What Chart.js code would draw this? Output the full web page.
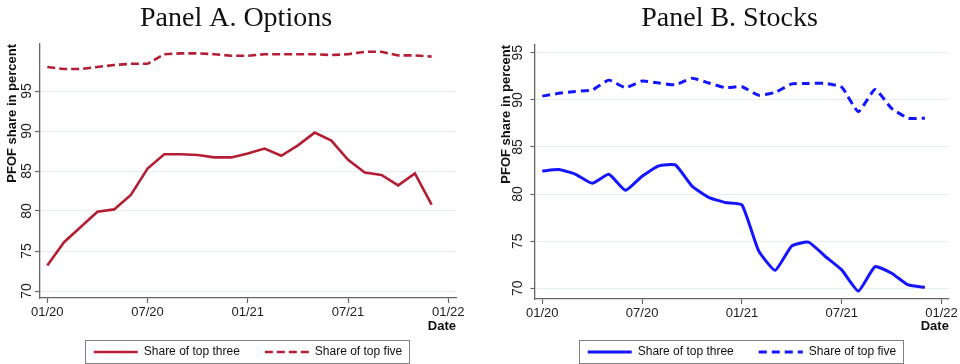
<!DOCTYPE html>
<html>
<head>
<meta charset="utf-8">
<script src="https://cdn.jsdelivr.net/npm/chart.js@4"></script>
<style>
  html, body { margin: 0; background: #fff; }
  #wrap { display: flex; width: 960px; height: 364px; }
  canvas { display: block; }
</style>
</head>
<body>
<div id="wrap">
  <canvas id="optionsChart" width="480" height="364"></canvas>
  <canvas id="stocksChart" width="480" height="364"></canvas>
</div>
<script>
// monthly observations, 01/2020 .. 12/2021
const MONTHS = [
  '01/20', '02/20', '03/20', '04/20', '05/20', '06/20', '07/20', '08/20', '09/20', '10/20', '11/20', '12/20',
  '01/21', '02/21', '03/21', '04/21', '05/21', '06/21', '07/21', '08/21', '09/21', '10/21', '11/21', '12/21'
];
const X_TICKS = [0, 6, 12, 18, 24];
const X_TICK_LABELS = ['01/20', '07/20', '01/21', '07/21', '01/22'];
const Y_TICKS = [70, 75, 80, 85, 90, 95];

// Panel A: options
const OPTIONS_TOP3 = [73.2, 76.1, 78.0, 79.9, 80.2, 82.0, 85.3, 87.1, 87.1, 87.0, 86.7, 86.7,
                      87.2, 87.8, 86.9, 88.2, 89.8, 88.8, 86.4, 84.8, 84.5, 83.2, 84.7, 80.8];
const OPTIONS_TOP5 = [98.0, 97.75, 97.75, 98.0, 98.25, 98.4, 98.4, 99.6, 99.7, 99.7, 99.6, 99.4,
                      99.4, 99.6, 99.6, 99.6, 99.6, 99.5, 99.6, 99.9, 99.9, 99.45, 99.45, 99.3];

// Panel B: stocks
const STOCKS_TOP3 = [82.45, 82.6, 82.1, 81.15, 82.1, 80.4, 81.9, 83.0, 83.1, 80.85, 79.65, 79.1,
                     78.85, 74.0, 71.9, 74.5, 74.9, 73.4, 71.95, 69.7, 72.3, 71.6, 70.35, 70.1];
const STOCKS_TOP5 = [90.4, 90.7, 90.9, 91.05, 92.1, 91.3, 92.0, 91.8, 91.6, 92.3, 91.8, 91.3,
                     91.4, 90.5, 90.8, 91.7, 91.75, 91.75, 91.35, 88.75, 91.1, 89.1, 88.05, 88.05];

const SANS = '"Liberation Sans", Arial, Helvetica, sans-serif';
const SERIF = '"Liberation Serif", "Times New Roman", serif';
const AXIS_COLOR = '#666';

// Stata-style boxed legend
const legendFrame = {
  id: 'legendFrame',
  afterDraw(chart) {
    const boxes = chart.legend && chart.legend.legendHitBoxes;
    if (!boxes || !boxes.length) return;
    const first = boxes[0];
    const last = boxes[boxes.length - 1];
    const left = Math.round(first.left - 9);
    const right = Math.round(last.left + last.width + 7);
    const top = Math.round(first.top - 6);
    const bottom = Math.round(first.top + first.height + 5);
    const ctx = chart.ctx;
    ctx.save();
    ctx.strokeStyle = '#808080';
    ctx.lineWidth = 1;
    ctx.strokeRect(left + 0.5, top + 0.5, right - left, bottom - top);
    ctx.restore();
  }
};

function toPoints(values) {
  return MONTHS.map((m, i) => ({ x: i, y: values[i] }));
}

// default legend items, but keep each dataset's dash pattern in the sample line
function legendLabels(chart) {
  const items = Chart.defaults.plugins.legend.labels.generateLabels(chart);
  return items.map(item => Object.assign(item, {
    lineDash: chart.data.datasets[item.datasetIndex].borderDash,
    lineCap: 'butt'
  }));
}

function buildPanel(canvasId, cfg) {
  const datasets = [
    { label: 'Share of top three', data: toPoints(cfg.top3), borderDash: [] },
    { label: 'Share of top five', data: toPoints(cfg.top5), borderDash: cfg.dash }
  ].map(ds => Object.assign(ds, {
    borderColor: cfg.color,
    backgroundColor: cfg.color,
    borderWidth: cfg.lineWidth,
    borderCapStyle: 'butt',
    pointRadius: 0,
    pointStyle: 'line',
    tension: cfg.tension,
    fill: false
  }));

  return new Chart(document.getElementById(canvasId), {
    type: 'line',
    data: { datasets },
    plugins: [legendFrame],
    options: {
      responsive: false,
      animation: false,
      events: [],
      layout: { padding: cfg.padding },
      plugins: {
        title: {
          display: true,
          text: cfg.title,
          color: '#111',
          font: { family: SERIF, size: 28, weight: 'normal', lineHeight: 1.2 },
          padding: { top: 2, bottom: cfg.titleGap }
        },
        legend: {
          position: 'bottom',
          fullSize: false,
          labels: {
            usePointStyle: true,
            pointStyle: 'line',
            pointStyleWidth: 44,
            generateLabels: legendLabels,
            color: '#111',
            font: { family: SANS, size: 12 },
            padding: 25
          }
        },
        tooltip: { enabled: false }
      },
      scales: {
        x: {
          type: 'linear',
          min: cfg.xMin,
          max: cfg.xMax,
          afterBuildTicks: s => { s.ticks = X_TICKS.map(v => ({ value: v })); },
          afterFit: s => { s.height = cfg.xHeight; },
          ticks: {
            callback: v => X_TICK_LABELS[X_TICKS.indexOf(v)],
            color: '#222',
            font: { family: SANS, size: 13 },
            padding: 2,
            maxRotation: 0,
            autoSkip: false
          },
          grid: { drawOnChartArea: false, tickLength: 5, tickColor: AXIS_COLOR, tickWidth: 1.2 },
          border: { color: AXIS_COLOR, width: 1.3 },
          title: {
            display: true,
            text: 'Date',
            align: 'end',
            color: '#111',
            font: { family: SANS, size: 13, weight: 'bold' },
            padding: { top: 0, bottom: -13 }
          }
        },
        y: {
          min: cfg.yMin,
          max: cfg.yMax,
          afterBuildTicks: s => { s.ticks = Y_TICKS.map(v => ({ value: v })); },
          afterFit: s => { s.width = cfg.yWidth; },
          ticks: {
            minRotation: 90,
            maxRotation: 90,
            crossAlign: 'center',
            padding: cfg.yTickPad,
            color: '#222',
            font: { family: SANS, size: 14 }
          },
          grid: { color: '#e4edef', lineWidth: 1, tickLength: cfg.yTickLen, tickColor: AXIS_COLOR, tickWidth: 1.2 },
          border: { color: AXIS_COLOR, width: 1.3 },
          title: {
            display: true,
            text: 'PFOF share in percent',
            align: 'end',
            color: '#111',
            font: { family: SANS, size: 13, weight: 'bold', lineHeight: 1.2 },
            padding: { top: cfg.yTitlePad, bottom: 0 }
          }
        }
      }
    }
  });
}

buildPanel('optionsChart', {
  title: 'Panel A. Options',
  top3: OPTIONS_TOP3,
  top5: OPTIONS_TOP5,
  color: '#b41e34',
  lineWidth: 2.6,
  dash: [8, 4],
  tension: 0,
  padding: { left: 16, right: 24, top: 0, bottom: -4 },
  titleGap: 8.4,
  xMin: -0.437, xMax: 24.46,
  yMin: 69.125, yMax: 100.875,
  xHeight: 23,
  yWidth: 24,
  yTickLen: 5,
  yTickPad: 0,
  yTitlePad: -11.8
});

buildPanel('stocksChart', {
  title: 'Panel B. Stocks',
  top3: STOCKS_TOP3,
  top5: STOCKS_TOP5,
  color: '#1414ff',
  lineWidth: 3,
  dash: [8, 5],
  tension: 0.15,
  padding: { left: 29, right: 10, top: 0, bottom: -4 },
  titleGap: 9.4,
  xMin: -0.438, xMax: 24.44,
  yMin: 68.86, yMax: 95.83,
  xHeight: 22,
  yWidth: 26,
  yTickLen: 4.5,
  yTickPad: 5,
  yTitlePad: -10.8
});
</script>
</body>
</html>
